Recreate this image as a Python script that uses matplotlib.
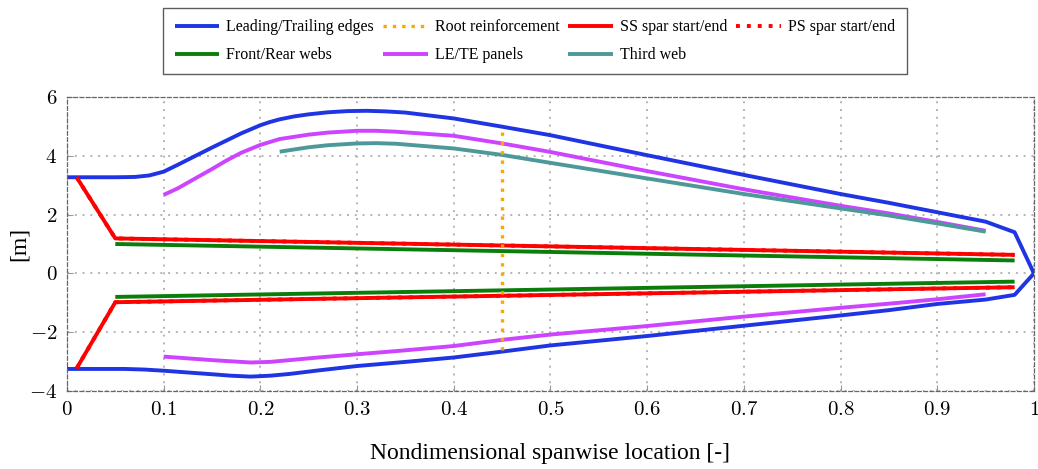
import numpy as np
import matplotlib
matplotlib.use("Agg")
import matplotlib.pyplot as plt

plt.rcParams.update({'font.family': 'Liberation Serif', 'mathtext.fontset': 'cm',
                     'font.size': 13})

# leading edge (upper outline) and trailing edge (lower outline)
le_x = [0.0, 0.05, 0.07, 0.085, 0.10, 0.115, 0.13, 0.15, 0.165, 0.18, 0.20, 0.21, 0.22,
        0.235, 0.25, 0.27, 0.29, 0.31, 0.33, 0.35, 0.40, 0.45, 0.50, 0.60, 0.70, 0.80,
        0.85, 0.90, 0.95, 0.98, 1.0]
le_y = [3.27, 3.27, 3.28, 3.33, 3.46, 3.70, 3.95, 4.28, 4.52, 4.76, 5.04, 5.15, 5.24,
        5.34, 5.41, 5.48, 5.52, 5.53, 5.51, 5.47, 5.27, 4.99, 4.70, 4.02, 3.35, 2.70,
        2.40, 2.08, 1.76, 1.40, 0.0]
te_x = [0.0, 0.06, 0.08, 0.10, 0.125, 0.15, 0.17, 0.19, 0.21, 0.23, 0.26, 0.30, 0.35,
        0.40, 0.45, 0.50, 0.60, 0.70, 0.80, 0.85, 0.90, 0.95, 0.98, 1.0]
te_y = [-3.25, -3.25, -3.27, -3.31, -3.37, -3.43, -3.48, -3.51, -3.48, -3.42, -3.30,
        -3.15, -3.01, -2.86, -2.66, -2.45, -2.13, -1.78, -1.43, -1.25, -1.04, -0.89,
        -0.73, 0.0]

# root reinforcement
root_x = [0.45, 0.45]
root_y = [-2.62, 4.80]

# spar caps (start / end)
spar_x = [0.01, 0.05, 0.98]
spar_start_y = [3.27, 1.19, 0.63]
spar_end_y = [-3.23, -0.98, -0.47]

# webs
web_x = [0.05, 0.98]
front_web_y = [1.00, 0.44]
rear_web_y = [-0.80, -0.28]

# LE / TE panels
lep_x = [0.10, 0.115, 0.13, 0.15, 0.165, 0.18, 0.20, 0.22, 0.25, 0.27, 0.30, 0.32,
         0.34, 0.40, 0.45, 0.50, 0.60, 0.70, 0.80, 0.85, 0.90, 0.95]
lep_y = [2.67, 2.90, 3.18, 3.55, 3.84, 4.10, 4.37, 4.57, 4.72, 4.79, 4.85, 4.85,
         4.82, 4.68, 4.42, 4.13, 3.48, 2.86, 2.30, 2.04, 1.75, 1.45]
tep_x = [0.10, 0.15, 0.19, 0.21, 0.23, 0.26, 0.30, 0.345, 0.40, 0.45, 0.50, 0.60,
         0.70, 0.80, 0.85, 0.90, 0.95]
tep_y = [-2.83, -2.95, -3.03, -3.01, -2.95, -2.86, -2.75, -2.63, -2.47, -2.26, -2.08,
         -1.79, -1.47, -1.17, -1.03, -0.88, -0.71]

# third web
tw_x = [0.22, 0.25, 0.27, 0.30, 0.32, 0.34, 0.40, 0.45, 0.50, 0.60, 0.70, 0.80, 0.85,
        0.90, 0.95]
tw_y = [4.14, 4.29, 4.36, 4.42, 4.43, 4.41, 4.25, 4.03, 3.76, 3.23, 2.70, 2.21, 1.97,
        1.70, 1.42]

x_ticks = [0, 0.1, 0.2, 0.3, 0.4, 0.5, 0.6, 0.7, 0.8, 0.9, 1]
x_tick_labels = ['0', '0.1', '0.2', '0.3', '0.4', '0.5', '0.6', '0.7', '0.8', '0.9', '1']
y_ticks = [-4, -2, 0, 2, 4, 6]
y_tick_labels = ['-4', '-2', '0', '2', '4', '6']

blue = '#1f35e3'
red = '#ff0000'
green = '#0a7d0a'
magenta = '#cc44ff'
teal = '#4d9999'
orange = '#ffa500'
lw = 2.8
dots = (0, (1, 1.8))
kw = dict(lw=lw, solid_joinstyle='round', solid_capstyle='butt')

fig = plt.figure(figsize=(10.38, 4.69), dpi=100)
ax = fig.add_axes([0.0645, 0.1663, 0.9316, 0.6269])

h_le, = ax.plot(le_x, le_y, color=blue, label='Leading/Trailing edges', **kw)
ax.plot(te_x, te_y, color=blue, **kw)
h_fw, = ax.plot(web_x, front_web_y, color=green, label='Front/Rear webs', **kw)
ax.plot(web_x, rear_web_y, color=green, **kw)
h_pan, = ax.plot(lep_x, lep_y, color=magenta, label='LE/TE panels', **kw)
ax.plot(tep_x, tep_y, color=magenta, **kw)
h_tw, = ax.plot(tw_x, tw_y, color=teal, label='Third web', **kw)
h_ss, = ax.plot(spar_x, spar_start_y, color=red, label='SS spar start/end', **kw)
ax.plot(spar_x, spar_end_y, color=red, **kw)
h_ps, = ax.plot(spar_x, spar_start_y, color=red, lw=lw, ls=dots, label='PS spar start/end')
ax.plot(spar_x, spar_end_y, color=red, lw=lw, ls=dots)
h_root, = ax.plot(root_x, root_y, color=orange, lw=2.4, ls=dots, label='Root reinforcement')

ax.set_xlim(0, 1)
ax.set_ylim(-4, 6)
ax.set_xticks(x_ticks, labels=['$%s$' % s for s in x_tick_labels])
ax.set_yticks(y_ticks, labels=['$%s$' % s for s in y_tick_labels])
ax.grid(True, color='#b4b4b4', lw=1.4, ls=(0, (1, 3)))
ax.set_axisbelow(True)
ax.tick_params(direction='in', length=4, color='#999999', labelsize=15, pad=7)
for sp in ax.spines.values():
    sp.set_linestyle((0, (3, 2)))
    sp.set_color('#666666')
    sp.set_linewidth(0.9)

ax.set_xlabel('Nondimensional spanwise location [-]', fontsize=17, labelpad=17)
ax.set_ylabel('[m]', fontsize=17)
ax.yaxis.set_label_coords(-0.038, 0.5)

handles = [h_le, h_fw, h_root, h_pan, h_ss, h_tw, h_ps]
leg = fig.legend(handles=handles, loc='upper center', bbox_to_anchor=(535 / 1038, 1 - 8 / 469),
                 ncol=4, fontsize=11.5, frameon=True, fancybox=False, edgecolor='#333333',
                 handlelength=2.8, handletextpad=0.45, columnspacing=0.55,
                 borderpad=0.7, labelspacing=0.75, borderaxespad=0)
leg.get_frame().set_linewidth(1.0)

fig.savefig('out.png', dpi=100)
